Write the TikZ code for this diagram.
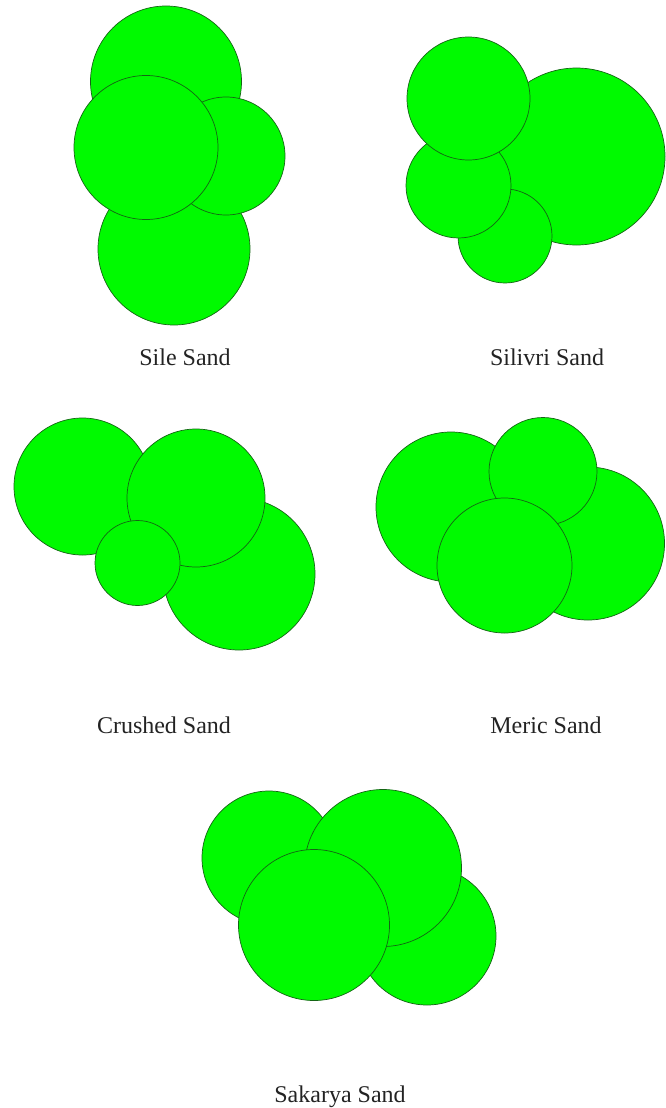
\documentclass[tikz,border=0pt]{standalone}
\usepackage{fontspec}
\setmainfont{Liberation Serif}
\definecolor{grain}{RGB}{0,250,0}
\definecolor{grainedge}{RGB}{20,100,20}
\definecolor{labeltext}{RGB}{35,35,35}
\begin{document}
\begin{tikzpicture}[x=1pt,y=-1pt,
  grainball/.style={circle,draw=grainedge,fill=grain,line width=0.7pt,inner sep=0pt,minimum size=#1},
  caption/.style={anchor=base,inner sep=0pt,text=labeltext,font=\fontsize{24}{28}\selectfont}]
\useasboundingbox (0,0) rectangle (665,1108);
% Sile Sand
\node[grainball=151pt] (s1) at (166,81.5) {};
\node[grainball=152pt] (s2) at (174,249) {};
\node[grainball=118pt] (s3) at (226,156) {};
\node[grainball=144pt] (s4) at (146,147.5) {};
\node[caption] (ls) at (185,365) {Sile Sand};
% Silivri Sand
\node[grainball=177pt] (v1) at (576.5,156.5) {};
\node[grainball=94pt] (v2) at (505,236) {};
\node[grainball=105pt] (v3) at (458.5,185.5) {};
\node[grainball=123pt] (v4) at (468.5,98.5) {};
\node[caption] (lv) at (547,365) {Silivri Sand};
% Crushed Sand
\node[grainball=137pt] (c1) at (82.5,486.5) {};
\node[grainball=152pt] (c2) at (239,574) {};
\node[grainball=138pt] (c3) at (196,498) {};
\node[grainball=85pt] (c4) at (137.5,563) {};
\node[caption] (lc) at (164,733) {Crushed Sand};
% Meric Sand
\node[grainball=150pt] (m1) at (451,507) {};
\node[grainball=153pt] (m2) at (588,543.5) {};
\node[grainball=108pt] (m3) at (543,471.5) {};
\node[grainball=135pt] (m4) at (504.5,565.5) {};
\node[caption] (lm) at (546,733) {Meric Sand};
% Sakarya Sand
\node[grainball=134pt] (k1) at (269,858) {};
\node[grainball=138pt] (k2) at (427,936) {};
\node[grainball=157pt] (k3) at (383,868) {};
\node[grainball=151pt] (k4) at (314,925) {};
\node[caption] (lk) at (340,1102) {Sakarya Sand};
\end{tikzpicture}
\end{document}
